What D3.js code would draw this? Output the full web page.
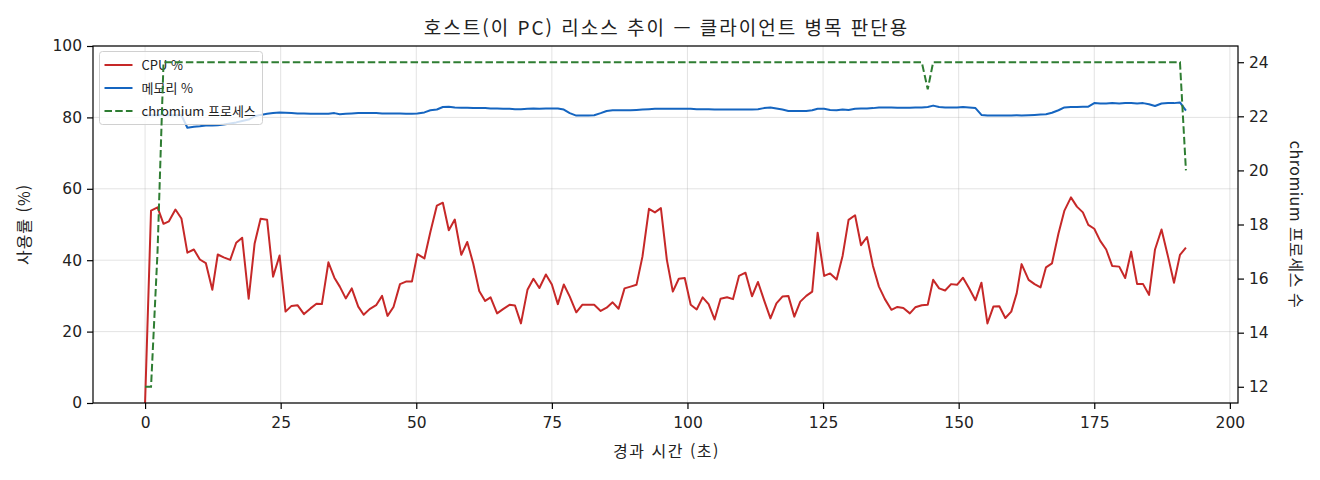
<!DOCTYPE html>
<html lang="ko">
<head>
<meta charset="utf-8" />
<script src="https://cdn.jsdelivr.net/npm/d3@7"></script>
<style>
  body { margin: 0; background: #fff; }
  svg text { font-family: "Noto Sans CJK KR", "DejaVu Sans", sans-serif; fill: #222; }
</style>
</head>
<body>
<script>

    const w = 1320;
    const h = 480;

    // elapsed seconds of each sample
    const elapsed = [0.0, 1.1, 2.3, 3.4, 4.4, 5.6, 6.7, 7.8, 9.0, 10.1,
        11.2, 12.4, 13.4, 14.5, 15.7, 16.8, 17.9, 19.1, 20.2, 21.3,
        22.5, 23.6, 24.8, 25.9, 27.0, 28.1, 29.3, 30.5, 31.6, 32.6,
        33.8, 34.9, 35.9, 37.0, 38.1, 39.3, 40.3, 41.4, 42.6, 43.7,
        44.7, 45.8, 47.0, 48.1, 49.2, 50.2, 51.5, 52.6, 53.8, 54.9,
        56.0, 57.1, 58.3, 59.4, 60.5, 61.6, 62.7, 63.7, 64.9, 66.0,
        67.2, 68.2, 69.3, 70.5, 71.6, 72.7, 73.9, 75.0, 76.1, 77.2,
        78.3, 79.5, 80.6, 81.7, 82.8, 84.0, 85.1, 86.2, 87.3, 88.4,
        89.5, 90.6, 91.7, 92.9, 94.0, 95.1, 96.2, 97.3, 98.4, 99.5,
        100.6, 101.7, 102.8, 103.9, 105.0, 106.1, 107.3, 108.4, 109.5, 110.7,
        111.9, 113.0, 114.1, 115.3, 116.4, 117.5, 118.6, 119.7, 120.8, 121.9,
        123.0, 124.0, 125.2, 126.3, 127.5, 128.6, 129.7, 130.9, 132.0, 133.1,
        134.2, 135.3, 136.4, 137.6, 138.7, 139.8, 141.0, 142.0, 143.2, 144.3,
        145.3, 146.4, 147.5, 148.6, 149.7, 150.8, 151.9, 153.1, 154.2, 155.3,
        156.4, 157.5, 158.6, 159.7, 160.7, 161.6, 162.9, 164.0, 165.1, 166.1,
        167.2, 168.4, 169.5, 170.7, 171.8, 172.9, 173.9, 175.0, 176.1, 177.2,
        178.3, 179.6, 180.7, 181.8, 182.9, 184.0, 185.1, 186.2, 187.4, 188.6,
        189.7, 190.8, 191.9];

    const cpu = [0.0, 53.9, 54.8, 50.2, 50.9, 54.2, 51.7, 42.1, 43.0, 40.2,
        39.2, 31.7, 41.6, 40.8, 40.1, 44.9, 46.3, 29.2, 44.7, 51.6,
        51.3, 35.4, 41.3, 25.6, 27.2, 27.4, 24.9, 26.5, 27.8, 27.7,
        39.4, 35.1, 32.6, 29.3, 32.1, 27.0, 24.7, 26.3, 27.4, 30.0,
        24.4, 26.9, 33.3, 34.0, 34.0, 41.7, 40.5, 47.9, 55.3, 56.1,
        48.4, 51.4, 41.5, 45.1, 39.1, 31.4, 28.6, 29.6, 25.1, 26.3,
        27.5, 27.3, 22.3, 31.7, 34.8, 32.2, 36.0, 33.2, 27.7, 33.2,
        29.8, 25.4, 27.5, 27.5, 27.5, 25.8, 26.7, 28.2, 26.4, 32.1,
        32.6, 33.1, 41.0, 54.4, 53.4, 54.6, 40.1, 31.2, 34.8, 35.0,
        27.5, 26.2, 29.6, 27.7, 23.4, 29.2, 29.6, 29.1, 35.6, 36.5,
        29.9, 33.9, 28.9, 23.7, 27.9, 29.8, 30.0, 24.2, 28.4, 30.0,
        31.2, 47.7, 35.6, 36.3, 34.6, 41.2, 51.3, 52.6, 44.2, 46.5,
        38.4, 32.6, 29.1, 26.1, 26.9, 26.6, 25.1, 26.8, 27.4, 27.5,
        34.5, 32.1, 31.5, 33.3, 33.1, 35.1, 32.2, 28.8, 33.7, 22.3,
        27.0, 27.1, 23.8, 25.6, 30.7, 38.9, 34.5, 33.3, 32.4, 38.0,
        39.1, 47.5, 53.9, 57.6, 55.0, 53.4, 49.9, 48.8, 45.4, 43.0,
        38.4, 38.2, 35.0, 42.4, 33.3, 33.3, 30.3, 43.0, 48.6, 41.0,
        33.7, 41.5, 43.5];

    const memory = [80.6, 80.6, 80.6, 80.6, 80.6, 80.6, 80.6, 77.1, 77.4, 77.5,
        77.7, 77.7, 77.8, 78.0, 78.3, 78.6, 79.0, 79.4, 80.3, 80.7,
        81.0, 81.2, 81.4, 81.3, 81.2, 81.1, 81.1, 81.0, 81.0, 81.0,
        81.0, 81.2, 80.9, 81.0, 81.1, 81.2, 81.2, 81.2, 81.2, 81.1,
        81.1, 81.1, 81.1, 81.0, 81.0, 81.1, 81.4, 82.0, 82.2, 82.9,
        83.0, 82.8, 82.7, 82.7, 82.6, 82.6, 82.6, 82.5, 82.5, 82.4,
        82.4, 82.3, 82.3, 82.4, 82.5, 82.4, 82.5, 82.5, 82.5, 82.2,
        81.2, 80.5, 80.5, 80.5, 80.6, 81.2, 81.8, 82.0, 82.0, 82.0,
        82.0, 82.1, 82.2, 82.3, 82.4, 82.4, 82.4, 82.4, 82.4, 82.4,
        82.4, 82.3, 82.3, 82.3, 82.2, 82.2, 82.2, 82.2, 82.2, 82.2,
        82.2, 82.3, 82.6, 82.8, 82.5, 82.2, 81.8, 81.8, 81.8, 81.8,
        82.0, 82.4, 82.4, 82.1, 82.0, 82.2, 82.1, 82.4, 82.5, 82.5,
        82.6, 82.8, 82.8, 82.8, 82.7, 82.7, 82.7, 82.8, 82.8, 82.9,
        83.3, 82.9, 82.8, 82.8, 82.8, 82.9, 82.8, 82.6, 80.7, 80.5,
        80.5, 80.5, 80.5, 80.5, 80.6, 80.5, 80.6, 80.7, 80.8, 80.9,
        81.3, 82.0, 82.8, 82.9, 82.9, 83.0, 83.0, 84.0, 83.9, 83.9,
        84.0, 83.9, 84.0, 84.0, 83.9, 84.0, 83.7, 83.2, 83.9, 84.0,
        84.0, 84.2, 81.9];

    const chromium = [12, 12, 17, 24, 24, 24, 24, 24, 24, 24,
        24, 24, 24, 24, 24, 24, 24, 24, 24, 24,
        24, 24, 24, 24, 24, 24, 24, 24, 24, 24,
        24, 24, 24, 24, 24, 24, 24, 24, 24, 24,
        24, 24, 24, 24, 24, 24, 24, 24, 24, 24,
        24, 24, 24, 24, 24, 24, 24, 24, 24, 24,
        24, 24, 24, 24, 24, 24, 24, 24, 24, 24,
        24, 24, 24, 24, 24, 24, 24, 24, 24, 24,
        24, 24, 24, 24, 24, 24, 24, 24, 24, 24,
        24, 24, 24, 24, 24, 24, 24, 24, 24, 24,
        24, 24, 24, 24, 24, 24, 24, 24, 24, 24,
        24, 24, 24, 24, 24, 24, 24, 24, 24, 24,
        24, 24, 24, 24, 24, 24, 24, 24, 24, 23,
        24, 24, 24, 24, 24, 24, 24, 24, 24, 24,
        24, 24, 24, 24, 24, 24, 24, 24, 24, 24,
        24, 24, 24, 24, 24, 24, 24, 24, 24, 24,
        24, 24, 24, 24, 24, 24, 24, 24, 24, 24,
        24, 24, 20];

    const xTicks = [0, 25, 50, 75, 100, 125, 150, 175, 200];
    const yTicks = [0, 20, 40, 60, 80, 100];
    const rTicks = [12, 14, 16, 18, 20, 22, 24];

    const title = "호스트(이 PC) 리소스 추이 — 클라이언트 병목 판단용";
    const seriesNames = ["CPU %", "메모리 %", "chromium 프로세스"];
    const colors = ["#c62828", "#1565c0", "#2e7d32"];

    const padLeft = 93, padRight = 1238, padTop = 46, padBottom = 403;

    const xScale = d3.scaleLinear().domain([-9.6, 201.5]).range([padLeft, padRight]);
    const yScale = d3.scaleLinear().domain([0, 100]).range([padBottom, padTop]);
    const rScale = d3.scaleLinear().domain([11.4, 24.6]).range([padBottom, padTop]);

    const svg = d3.select("body").append("svg")
        .attr("width", w)
        .attr("height", h);

    // grid
    svg.append("g").selectAll("line").data(xTicks).join("line")
        .attr("x1", d => xScale(d)).attr("x2", d => xScale(d))
        .attr("y1", padTop).attr("y2", padBottom)
        .attr("stroke", "#b0b0b0").attr("stroke-opacity", 0.35).attr("stroke-width", 1);
    svg.append("g").selectAll("line").data(yTicks).join("line")
        .attr("x1", padLeft).attr("x2", padRight)
        .attr("y1", d => yScale(d)).attr("y2", d => yScale(d))
        .attr("stroke", "#b0b0b0").attr("stroke-opacity", 0.35).attr("stroke-width", 1);

    const pts = elapsed.map((t, i) => ({ t, cpu: cpu[i], mem: memory[i], chr: chromium[i] }));

    const lineOf = (key, scale) => d3.line().x(d => xScale(d.t)).y(d => scale(d[key]));

    svg.append("path").datum(pts)
        .attr("d", lineOf("cpu", yScale))
        .attr("fill", "none").attr("stroke", colors[0]).attr("stroke-width", 2)
        .attr("stroke-linejoin", "round");
    svg.append("path").datum(pts)
        .attr("d", lineOf("mem", yScale))
        .attr("fill", "none").attr("stroke", colors[1]).attr("stroke-width", 2)
        .attr("stroke-linejoin", "round");

    // legend sits under the twin-axis line
    const legend = svg.append("g").attr("transform", "translate(99.5,51.5)");
    legend.append("rect")
        .attr("width", 163).attr("height", 73).attr("rx", 3)
        .attr("fill", "#fff").attr("fill-opacity", 0.8)
        .attr("stroke", "#d0d0d0").attr("stroke-width", 1);
    seriesNames.forEach((name, i) => {
        const yy = 13.5 + i * 23;
        legend.append("line")
            .attr("x1", 5).attr("x2", 33).attr("y1", yy).attr("y2", yy)
            .attr("stroke", colors[i]).attr("stroke-width", 2)
            .attr("stroke-dasharray", i == 2 ? "7.5,3.2" : null);
        legend.append("text")
            .attr("x", 42).attr("y", yy).attr("dy", "0.35em")
            .style("font-size", "13px")
            .text(name);
    });

    svg.append("path").datum(pts)
        .attr("d", lineOf("chr", rScale))
        .attr("fill", "none").attr("stroke", colors[2]).attr("stroke-width", 2)
        .attr("stroke-dasharray", "7.5,3.2");

    // frame
    svg.append("rect")
        .attr("x", padLeft).attr("y", padTop)
        .attr("width", padRight - padLeft).attr("height", padBottom - padTop)
        .attr("fill", "none").attr("stroke", "#000").attr("stroke-width", 1.2);

    const xAxis = d3.axisBottom(xScale).tickValues(xTicks).tickSize(6).tickPadding(8);
    const yAxis = d3.axisLeft(yScale).tickValues(yTicks).tickSize(6).tickPadding(5);
    const rAxis = d3.axisRight(rScale).tickValues(rTicks).tickSize(6).tickPadding(5);

    const styleAxis = g => {
        g.select(".domain").remove();
        g.selectAll("text").style("font-size", "15.5px").attr("fill", "#222")
            .style("font-family", "'DejaVu Sans', sans-serif");
        g.selectAll("line").attr("stroke", "#000").attr("stroke-width", 1.2);
    };

    svg.append("g").attr("transform", `translate(0,${padBottom})`).call(xAxis).call(styleAxis);
    svg.append("g").attr("transform", `translate(${padLeft},0)`).call(yAxis).call(styleAxis);
    svg.append("g").attr("transform", `translate(${padRight},0)`).call(rAxis).call(styleAxis);

    svg.append("text")
        .attr("x", (padLeft + padRight) / 2 + 1).attr("y", 35)
        .attr("text-anchor", "middle")
        .style("font-size", "19px")
        .style("letter-spacing", "2px")
        .text(title);

    svg.append("text")
        .attr("x", (padLeft + padRight) / 2 + 1).attr("y", 457)
        .attr("text-anchor", "middle")
        .style("font-size", "16px")
        .style("letter-spacing", "1.5px")
        .text("경과 시간 (초)");

    svg.append("text")
        .attr("transform", `translate(30,${(padTop + padBottom) / 2}) rotate(-90)`)
        .attr("text-anchor", "middle")
        .style("font-size", "16px")
        .style("letter-spacing", "1px")
        .text("사용률 (%)");

    svg.append("text")
        .attr("transform", `translate(1290,${(padTop + padBottom) / 2}) rotate(90)`)
        .attr("text-anchor", "middle")
        .style("font-size", "16px")
        .style("letter-spacing", "0.5px")
        .text("chromium 프로세스 수");

</script>
</body>
</html>
